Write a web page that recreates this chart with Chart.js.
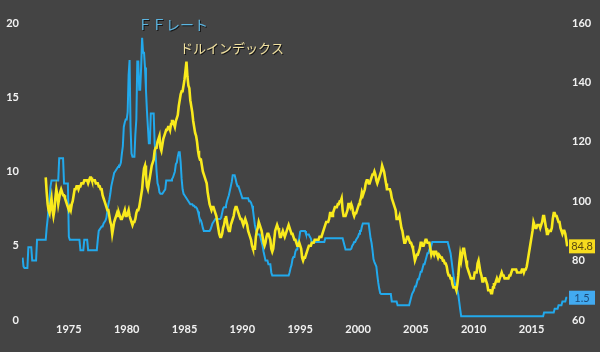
<!DOCTYPE html>
<html>
<head>
<meta charset="utf-8">
<script src="https://cdn.jsdelivr.net/npm/chart.js@4.4.1/dist/chart.umd.min.js"></script>
<style>
  html, body { margin: 0; padding: 0; background: #444444; }
  #wrap { width: 600px; height: 352px; position: relative; }
</style>
</head>
<body>
<div id="wrap"><canvas id="fxChart"></canvas></div>
<script>
// FFレート (monthly, from Jan 1971)
const ffStart = 1971;
const ffRate = [
  4.2, 3.6, 3.5, 3.5, 3.5, 3.5, 4.9, 4.9, 4.9, 4.9, 4.0, 4.0,          // 1971
  4.0, 4.0, 4.0, 5.4, 5.4, 5.4, 5.4, 5.4, 5.4, 5.4, 5.4, 5.4,          // 1972
  5.4, 6.2, 6.8, 7.6, 8.2, 9.0, 9.4, 9.4, 9.4, 9.4, 9.4, 9.4,          // 1973
  9.4, 9.4, 10.9, 10.9, 10.9, 10.9, 10.9, 9.2, 9.2, 9.2, 9.2, 9.2,     // 1974
  5.6, 5.4, 5.4, 5.4, 5.4, 5.4, 5.4, 5.4, 5.4, 5.4, 5.4, 5.4,          // 1975
  4.7, 4.7, 4.7, 4.7, 5.4, 5.4, 5.4, 5.4, 4.7, 4.7, 4.7, 4.7,          // 1976
  4.7, 4.7, 4.7, 4.7, 4.7, 4.7, 5.4, 6.0, 6.1, 6.2, 6.3, 6.3,          // 1977
  6.5, 6.6, 6.7, 6.9, 7.4, 7.8, 8.1, 8.5, 9.0, 9.3, 9.6, 9.9,          // 1978
  10.0, 10.1, 10.2, 10.3, 10.4, 10.4, 10.6, 11.2, 11.7, 13.0, 13.3, 13.5, // 1979
  13.5, 14.0, 16.5, 17.5, 13.0, 11.2, 11.0, 11.0, 11.0, 12.5, 13.5, 17.4, // 1980
  17.4, 15.5, 15.5, 17.0, 19.0, 18.0, 18.0, 17.0, 15.5, 14.1, 13.0, 11.9, // 1981
  11.9, 13.9, 13.9, 13.9, 13.9, 11.9, 11.2, 10.0, 9.2, 9.0, 8.6, 8.5,  // 1982
  8.5, 8.5, 8.6, 8.7, 8.8, 9.4, 9.4, 9.4, 9.4, 9.4, 9.4, 9.5,          // 1983
  9.6, 9.8, 10.0, 10.5, 10.6, 11.0, 11.3, 11.3, 10.6, 9.5, 8.8, 8.5,   // 1984
  8.4, 8.3, 8.2, 8.1, 8.0, 7.9, 7.8, 7.8, 7.8, 7.7, 7.7, 7.6,          // 1985
  7.6, 7.5, 7.3, 7.0, 6.8, 6.7, 6.5, 6.2, 6.0, 6.0, 6.0, 6.0,          // 1986
  6.0, 6.0, 6.0, 6.1, 6.3, 6.5, 6.6, 6.7, 6.8, 6.8, 6.8, 6.8,          // 1987
  6.8, 6.8, 6.9, 7.2, 7.5, 7.6, 7.6, 7.7, 8.0, 8.2, 8.4, 8.7,          // 1988
  9.0, 9.3, 9.75, 9.75, 9.75, 9.5, 9.2, 9.0, 9.0, 8.8, 8.6, 8.4,       // 1989
  8.2, 8.2, 8.2, 8.2, 8.2, 8.2, 8.2, 8.0, 8.0, 7.9, 7.7, 7.4,          // 1990
  6.9, 6.4, 6.1, 5.9, 5.75, 5.75, 5.75, 5.5, 5.25, 5.0, 4.6, 4.3,      // 1991
  4.0, 4.0, 4.0, 3.75, 3.75, 3.75, 3.2, 3.0, 3.0, 3.0, 3.0, 3.0,       // 1992
  3.0, 3.0, 3.0, 3.0, 3.0, 3.0, 3.0, 3.0, 3.0, 3.0, 3.0, 3.0,          // 1993
  3.0, 3.2, 3.5, 3.7, 4.1, 4.25, 4.25, 4.6, 4.75, 4.75, 5.3, 5.5,      // 1994
  5.95, 6.0, 6.0, 6.0, 6.0, 6.0, 5.8, 5.75, 5.75, 5.75, 5.6, 5.5,      // 1995
  5.25, 5.25, 5.25, 5.25, 5.25, 5.25, 5.25, 5.25, 5.25, 5.25, 5.25, 5.25, // 1996
  5.25, 5.25, 5.5, 5.5, 5.5, 5.5, 5.5, 5.5, 5.5, 5.5, 5.5, 5.5,        // 1997
  5.5, 5.5, 5.5, 5.5, 5.5, 5.5, 5.5, 5.5, 5.5, 5.25, 5.0, 4.75,        // 1998
  4.75, 4.75, 4.75, 4.75, 4.75, 4.8, 5.0, 5.1, 5.25, 5.25, 5.4, 5.5,   // 1999
  5.6, 5.8, 6.0, 6.0, 6.3, 6.5, 6.5, 6.5, 6.5, 6.5, 6.5, 6.5,          // 2000
  6.0, 5.5, 5.2, 4.7, 4.1, 3.9, 3.75, 3.6, 3.0, 2.5, 2.1, 1.8,         // 2001
  1.75, 1.75, 1.75, 1.75, 1.75, 1.75, 1.75, 1.75, 1.75, 1.75, 1.75, 1.25, // 2002
  1.25, 1.25, 1.25, 1.25, 1.25, 1.0, 1.0, 1.0, 1.0, 1.0, 1.0, 1.0,     // 2003
  1.0, 1.0, 1.0, 1.0, 1.0, 1.0, 1.25, 1.5, 1.75, 1.75, 2.0, 2.25,      // 2004
  2.25, 2.5, 2.75, 2.75, 3.0, 3.25, 3.25, 3.5, 3.75, 3.75, 4.0, 4.25,  // 2005
  4.5, 4.5, 4.75, 4.75, 5.0, 5.25, 5.25, 5.25, 5.25, 5.25, 5.25, 5.25, // 2006
  5.25, 5.25, 5.25, 5.25, 5.25, 5.25, 5.25, 5.25, 5.25, 5.25, 5.0, 4.75, // 2007
  4.5, 4.0, 3.5, 3.0, 2.6, 2.3, 2.1, 2.0, 1.7, 1.2, 0.7, 0.25,         // 2008
  0.25, 0.25, 0.25, 0.25, 0.25, 0.25, 0.25, 0.25, 0.25, 0.25, 0.25, 0.25, // 2009
  0.25, 0.25, 0.25, 0.25, 0.25, 0.25, 0.25, 0.25, 0.25, 0.25, 0.25, 0.25, // 2010
  0.25, 0.25, 0.25, 0.25, 0.25, 0.25, 0.25, 0.25, 0.25, 0.25, 0.25, 0.25, // 2011
  0.25, 0.25, 0.25, 0.25, 0.25, 0.25, 0.25, 0.25, 0.25, 0.25, 0.25, 0.25, // 2012
  0.25, 0.25, 0.25, 0.25, 0.25, 0.25, 0.25, 0.25, 0.25, 0.25, 0.25, 0.25, // 2013
  0.25, 0.25, 0.25, 0.25, 0.25, 0.25, 0.25, 0.25, 0.25, 0.25, 0.25, 0.25, // 2014
  0.25, 0.25, 0.25, 0.25, 0.25, 0.25, 0.25, 0.25, 0.25, 0.25, 0.25, 0.25, // 2015
  0.25, 0.5, 0.5, 0.5, 0.5, 0.5, 0.5, 0.5, 0.5, 0.5, 0.5, 0.5,         // 2016
  0.75, 0.75, 0.75, 0.75, 1.0, 1.0, 1.0, 1.0, 1.25, 1.25, 1.25, 1.25,  // 2017
  1.5, 1.5                                                              // 2018
];

// ドルインデックス (monthly, from Jan 1973)
const dxStart = 1973;
const dollarIndex = [
  108, 103, 99, 97, 96, 99, 101, 97, 95, 97, 101, 104,        // 1973
  102, 99, 101, 103, 104, 103, 102, 102, 101, 100, 99, 98,    // 1974
  97, 98, 97, 99, 100, 102, 104, 104, 105, 105, 104, 105,     // 1975
  105, 106, 106, 106, 107, 107, 107, 107, 106, 107, 108, 108, // 1976
  107, 107, 107, 107, 106, 106, 106, 105, 105, 104, 104, 102, // 1977
  101, 100, 99, 98, 97, 97, 95, 93, 92, 89, 91, 93,           // 1978
  94, 95, 96, 95, 96, 95, 94, 94, 95, 96, 97, 95,             // 1979
  95, 96, 97, 95, 94, 93, 92, 93, 93, 94, 96, 97,             // 1980
  97, 98, 100, 102, 104, 108, 111, 112, 109, 105, 104, 106,   // 1981
  108, 110, 112, 113, 114, 117, 118, 118, 120, 121, 122, 118, // 1982
  117, 119, 121, 122, 123, 124, 124, 125, 125, 124, 126, 127, // 1983
  127, 126, 125, 127, 128, 129, 132, 134, 136, 137, 137, 139, // 1984
  141, 144, 147, 142, 139, 138, 134, 132, 130, 127, 125, 123, // 1985
  122, 120, 117, 115, 114, 114, 112, 110, 109, 108, 107, 106, // 1986
  103, 101, 99, 98, 97, 98, 98, 97, 96, 95, 93, 91,           // 1987
  89, 88, 88, 89, 91, 92, 94, 95, 93, 91, 90, 90,             // 1988
  92, 93, 94, 95, 97, 98, 98, 97, 96, 95, 94, 94,             // 1989
  93, 92, 93, 94, 93, 92, 90, 89, 88, 87, 85, 84,             // 1990
  84, 84, 88, 90, 91, 93, 92, 91, 90, 88, 86, 85,             // 1991
  86, 88, 89, 89, 88, 87, 84, 83, 84, 87, 90, 91,             // 1992
  92, 91, 90, 88, 88, 89, 90, 89, 88, 89, 90, 91,             // 1993
  92, 91, 90, 89, 89, 88, 87, 87, 86, 85, 85, 86,             // 1994
  85, 84, 81, 80, 81, 81, 81, 83, 84, 85, 85, 85,             // 1995
  86, 86, 86, 87, 87, 87, 87, 87, 88, 88, 88, 89,             // 1996
  90, 91, 92, 93, 93, 93, 94, 96, 96, 95, 96, 97,             // 1997
  98, 98, 98, 99, 99, 100, 100, 101, 97, 95, 95, 95,          // 1998
  96, 97, 99, 99, 98, 99, 98, 96, 95, 96, 96, 97,             // 1999
  98, 99, 100, 101, 103, 102, 103, 104, 106, 107, 107, 106,   // 2000
  106, 107, 108, 109, 109, 110, 109, 107, 106, 107, 108, 109, // 2001
  110, 112, 111, 110, 108, 106, 104, 104, 104, 104, 103, 101, // 2002
  100, 99, 98, 97, 94, 94, 94, 95, 93, 91, 90, 88,            // 2003
  86, 86, 87, 88, 88, 87, 86, 86, 85, 84, 82, 80,             // 2004
  81, 82, 82, 83, 84, 86, 86, 85, 85, 86, 87, 87,             // 2005
  86, 86, 86, 84, 82, 83, 83, 82, 83, 83, 82, 81,             // 2006
  82, 82, 81, 81, 80, 80, 79, 79, 78, 76, 75, 75,             // 2007
  74, 74, 72, 71, 71, 71, 70, 72, 75, 79, 82, 80,             // 2008
  82, 84, 84, 82, 80, 78, 77, 76, 75, 74, 74, 74,             // 2009
  74, 76, 76, 76, 79, 80, 78, 76, 75, 73, 73, 74,             // 2010
  74, 73, 72, 70, 70, 70, 69, 69, 71, 72, 72, 73,             // 2011
  74, 73, 73, 74, 75, 76, 75, 75, 74, 74, 74, 74,             // 2012
  74, 75, 75, 76, 77, 77, 77, 77, 77, 76, 76, 76,             // 2013
  76, 76, 77, 77, 76, 77, 77, 78, 80, 82, 84, 86,             // 2014
  88, 90, 93, 92, 91, 91, 92, 92, 92, 91, 92, 93,             // 2015
  95, 95, 93, 91, 89, 89, 90, 90, 90, 91, 94, 96,             // 2016
  96, 95, 95, 94, 93, 93, 91, 90, 89, 90, 90, 89,             // 2017
  87, 84.8                                                     // 2018
];

const yearTicks = [1975, 1980, 1985, 1990, 1995, 2000, 2005, 2010, 2015];
const rateTicks = [0, 5, 10, 15, 20];
const indexTicks = [60, 80, 100, 120, 140, 160];

const toPoints = (start, values) => values.map((v, i) => ({ x: start + i / 12, y: v }));

const tickFont = { family: 'Lato', weight: 'bold', size: 11 };

// series names and last-value tags
const labelPlugin = {
  id: 'labelPlugin',
  afterDatasetsDraw(chart) {
    const { ctx, chartArea, scales } = chart;
    ctx.save();
    ctx.font = '14px "Noto Sans CJK JP"';
    ctx.textBaseline = 'middle';
    ctx.textAlign = 'left';
    ctx.shadowColor = 'rgba(0,0,0,0.7)';
    ctx.shadowOffsetX = 1;
    ctx.shadowOffsetY = 1;
    ctx.fillStyle = '#5cb6e2';
    ctx.fillText('ＦＦレート', 138, 25);
    ctx.font = '13px "Noto Sans CJK JP"';
    ctx.fillStyle = '#f2e2a0';
    ctx.fillText('ドルインデックス', 180, 48);
    ctx.restore();

    const tags = [
      { val: dollarIndex[dollarIndex.length - 1], y: scales.yR.getPixelForValue(dollarIndex[dollarIndex.length - 1]), bg: '#f7dc1e', fg: '#5a4a10' },
      { val: ffRate[ffRate.length - 1], y: scales.yL.getPixelForValue(ffRate[ffRate.length - 1]), bg: '#42aaf0', fg: '#1d4a78' }
    ];
    ctx.save();
    ctx.font = '11px "Lato"';
    ctx.textBaseline = 'middle';
    ctx.textAlign = 'center';
    tags.forEach(t => {
      const x = chartArea.right + 1;
      ctx.fillStyle = t.bg;
      ctx.fillRect(x, t.y - 7, 26, 14);
      ctx.fillStyle = t.fg;
      ctx.fillText(String(t.val), x + 13, t.y + 0.5);
    });
    ctx.restore();
  }
};

new Chart(document.getElementById('fxChart'), {
  type: 'line',
  data: {
    datasets: [
      {
        label: 'ドルインデックス',
        data: toPoints(dxStart, dollarIndex),
        yAxisID: 'yR',
        borderColor: '#f9ea1c',
        borderWidth: 2.6,
        pointRadius: 0,
        tension: 0
      },
      {
        label: 'ＦＦレート',
        data: toPoints(ffStart, ffRate),
        yAxisID: 'yL',
        borderColor: '#22a9ec',
        borderWidth: 2,
        pointRadius: 0,
        tension: 0
      }
    ]
  },
  plugins: [labelPlugin],
  options: {
    responsive: true,
    maintainAspectRatio: false,
    animation: false,
    layout: { padding: { top: 23, bottom: 0, left: 0, right: 0 } },
    plugins: {
      legend: { display: false },
      tooltip: { enabled: false }
    },
    scales: {
      x: {
        type: 'linear',
        min: 1970.95,
        max: 2018.15,
        grid: { display: false, drawTicks: false },
        border: { display: false },
        afterBuildTicks: s => { s.ticks = yearTicks.map(v => ({ value: v })); },
        afterFit: s => { s.height = 32; },
        ticks: {
          color: '#f2f2f2',
          font: tickFont,
          padding: 3,
          maxRotation: 0,
          callback: v => String(v)
        }
      },
      yL: {
        position: 'left',
        min: 0,
        max: 20,
        grid: { display: false, drawTicks: false },
        border: { display: false },
        afterBuildTicks: s => { s.ticks = rateTicks.map(v => ({ value: v })); },
        afterFit: s => { s.width = 22; },
        ticks: { color: '#f2f2f2', font: tickFont, padding: 3 }
      },
      yR: {
        position: 'right',
        min: 60,
        max: 160,
        grid: { display: false, drawTicks: false },
        border: { display: false },
        afterBuildTicks: s => { s.ticks = indexTicks.map(v => ({ value: v })); },
        afterFit: s => { s.width = 32; },
        ticks: { color: '#f2f2f2', font: tickFont, padding: 4 }
      }
    }
  }
});
</script>
</body>
</html>
